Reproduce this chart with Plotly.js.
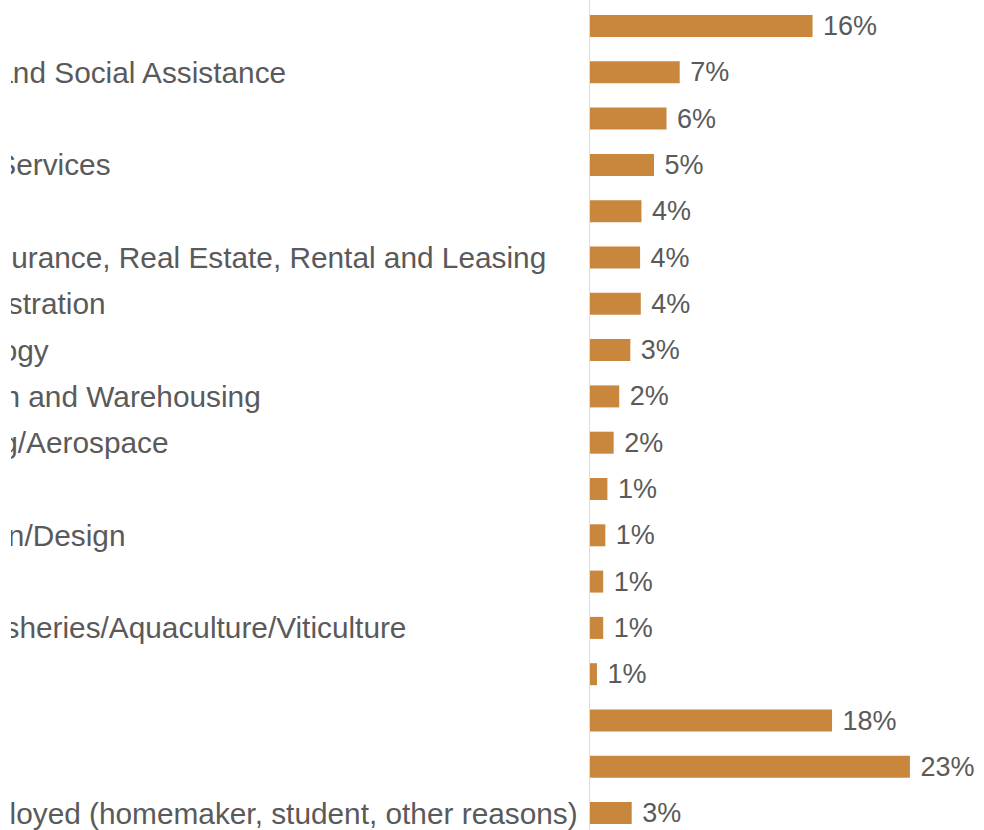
<!DOCTYPE html>
<html>
<head>
<meta charset="utf-8">
<script src="https://cdn.plot.ly/plotly-3.0.1.min.js"></script>
<style>
html, body { margin: 0; padding: 0; background: #ffffff; }
#wrap { position: absolute; left: 11px; top: 0; width: 973px; height: 830px; overflow: hidden; background: #ffffff; }
#chart { width: 973px; height: 830px; }
</style>
</head>
<body>
<div id="wrap"><div id="chart"></div></div>
<script>
// Categories, top to bottom
var categories = [
  "Education",
  "Health Care and Social Assistance",
  "Retail",
  "Engineering Services",
  "Hospitality",
  "Finance & Insurance, Real Estate, Rental and Leasing",
  "Public Administration",
  "High Technology",
  "Transportation and Warehousing",
  "Manufacturing/Aerospace",
  "Military",
  "Media/Fashion/Design",
  "Utilities",
  "Agriculture/Fisheries/Aquaculture/Viticulture",
  "Mining",
  "Other",
  "Retired",
  "Other, unemployed (homemaker, student, other reasons)"
];
// Share of respondents (%)
var shares = [16.0, 6.45, 5.5, 4.6, 3.7, 3.6, 3.65, 2.9, 2.1, 1.7, 1.25, 1.1, 0.95, 0.95, 0.5, 17.4, 23.0, 3.0];
// Printed data labels
var shareLabels = ["16%","7%","6%","5%","4%","4%","4%","3%","2%","2%","1%","1%","1%","1%","1%","18%","23%","3%"];

var W = 973, H = 830;
var marginL = 579;
var plotW = W - marginL;
var pxPerUnit = 13.91;
var rowPx = 46.3, firstRowCenter = 26;
var labelLeftPx = -182; // left edge of category labels, in div pixels

var labelColor = "#5a5a5a";
var barColor = "#C8873D";
var fontFam = "Liberation Sans, Arial, sans-serif";

var trace = {
  type: "bar",
  orientation: "h",
  x: shares,
  y: categories,
  marker: { color: barColor, line: { width: 0 } },
  text: shareLabels.map(function (s) { return "\u00a0" + s; }),
  textposition: "outside",
  constraintext: "none",
  textfont: { family: fontFam, size: 27, color: labelColor },
  cliponaxis: false,
  hoverinfo: "none"
};

var annotations = categories.map(function (c) {
  return {
    xref: "paper", yref: "y",
    x: (labelLeftPx - marginL) / plotW,
    y: c,
    xanchor: "left", yanchor: "middle",
    text: c.replace(/&/g, "&amp;"),
    showarrow: false,
    borderpad: 0, borderwidth: 0,
    font: { family: fontFam, size: 29.8, color: labelColor }
  };
});

var topRange = -firstRowCenter / rowPx;
var bottomRange = (H - firstRowCenter) / rowPx;

var layout = {
  width: W, height: H,
  margin: { l: marginL, r: 0, t: 0, b: 0, pad: 0 },
  paper_bgcolor: "#ffffff",
  plot_bgcolor: "#ffffff",
  showlegend: false,
  bargap: 0.525,
  xaxis: {
    range: [0, plotW / pxPerUnit],
    showgrid: false, zeroline: false, showline: false,
    showticklabels: false, ticks: "", fixedrange: true
  },
  yaxis: {
    type: "category",
    range: [bottomRange, topRange],
    showgrid: false, zeroline: false,
    showline: true, linecolor: "#dcdce6", linewidth: 1.5,
    showticklabels: false, ticks: "", fixedrange: true
  },
  annotations: annotations
};

Plotly.newPlot("chart", [trace], layout, { displayModeBar: false, staticPlot: true });
</script>
</body>
</html>
